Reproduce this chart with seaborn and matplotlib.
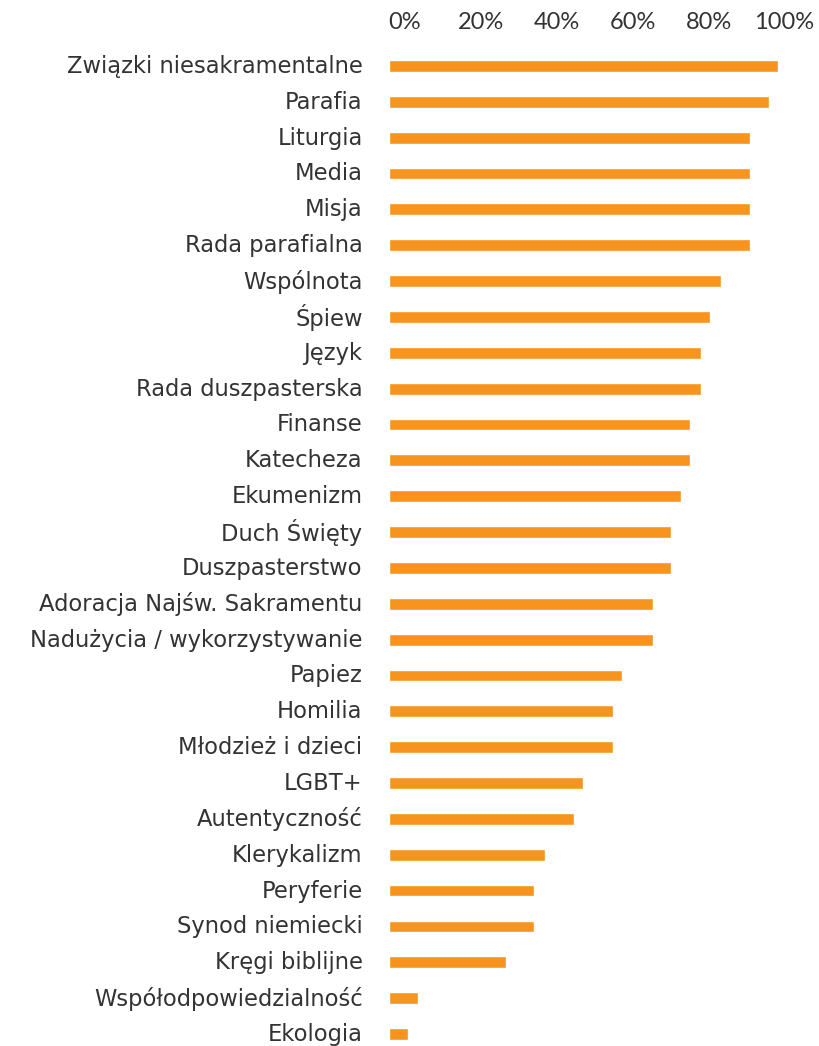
import pandas as pd
import matplotlib.pyplot as plt
import matplotlib.transforms as mtransforms
import seaborn as sns

topics = ["Związki niesakramentalne", "Parafia", "Liturgia", "Media", "Misja",
          "Rada parafialna", "Wspólnota", "Śpiew", "Język", "Rada duszpasterska",
          "Finanse", "Katecheza", "Ekumenizm", "Duch Święty", "Duszpasterstwo",
          "Adoracja Najśw. Sakramentu", "Nadużycia / wykorzystywanie", "Papiez",
          "Homilia", "Młodzież i dzieci", "LGBT+", "Autentyczność", "Klerykalizm",
          "Peryferie", "Synod niemiecki", "Kręgi biblijne", "Współodpowiedzialność",
          "Ekologia"]
share = [98.5, 96.2, 91.4, 91.4, 91.4, 91.4, 84.1, 81.3, 79.0, 79.0,
         76.2, 76.2, 73.9, 71.4, 71.4, 66.8, 66.8, 59.0, 56.7, 56.7,
         49.1, 46.8, 39.5, 36.7, 36.7, 29.6, 7.3, 4.7]
ticks = [0, 20, 40, 60, 80, 100]
tick_labels = ["0%", "20%", "40%", "60%", "80%", "100%"]

df = pd.DataFrame({"topic": topics, "share": share})

sns.set_style("white")
plt.rcParams["font.family"] = ["Lato", "DejaVu Sans"]

fig = plt.figure(figsize=(8.19, 10.46), dpi=100)
ax = fig.add_axes([389 / 819, 0, (784 - 389) / 819, 1 - 48 / 1046])

sns.barplot(data=df, x="share", y="topic", orient="h", color="#F7941D",
            saturation=1, width=0.33, ax=ax)

ax.set_xlim(0, 100)
ax.set_ylim(27 + 12 / 35.85, -0.5)
ax.set_xticks(ticks)
ax.set_xticklabels(tick_labels)
ax.xaxis.tick_top()
ax.tick_params(axis="x", length=0, pad=11, labelsize=17, labelcolor="#333333")
ax.tick_params(axis="y", length=0, pad=19, labelcolor="#333333")

# top labels are spread a bit tighter than the scale in the original
shifts = [16, 13, 10, 7, 4, 0]
for lbl, dx in zip(ax.get_xticklabels(), shifts):
    lbl.set_transform(lbl.get_transform() +
                      mtransforms.ScaledTranslation(dx / 100, 0, fig.dpi_scale_trans))

for lbl in ax.get_yticklabels():
    lbl.set_family(["DejaVu Sans"])
    lbl.set_fontsize(16.3)
    lbl.set_transform(lbl.get_transform() +
                      mtransforms.ScaledTranslation(0, 2 / 100, fig.dpi_scale_trans))
ax.set_xlabel("")
ax.set_ylabel("")
for s in ax.spines.values():
    s.set_visible(False)
ax.grid(False)

fig.savefig("out.png", dpi=100)
